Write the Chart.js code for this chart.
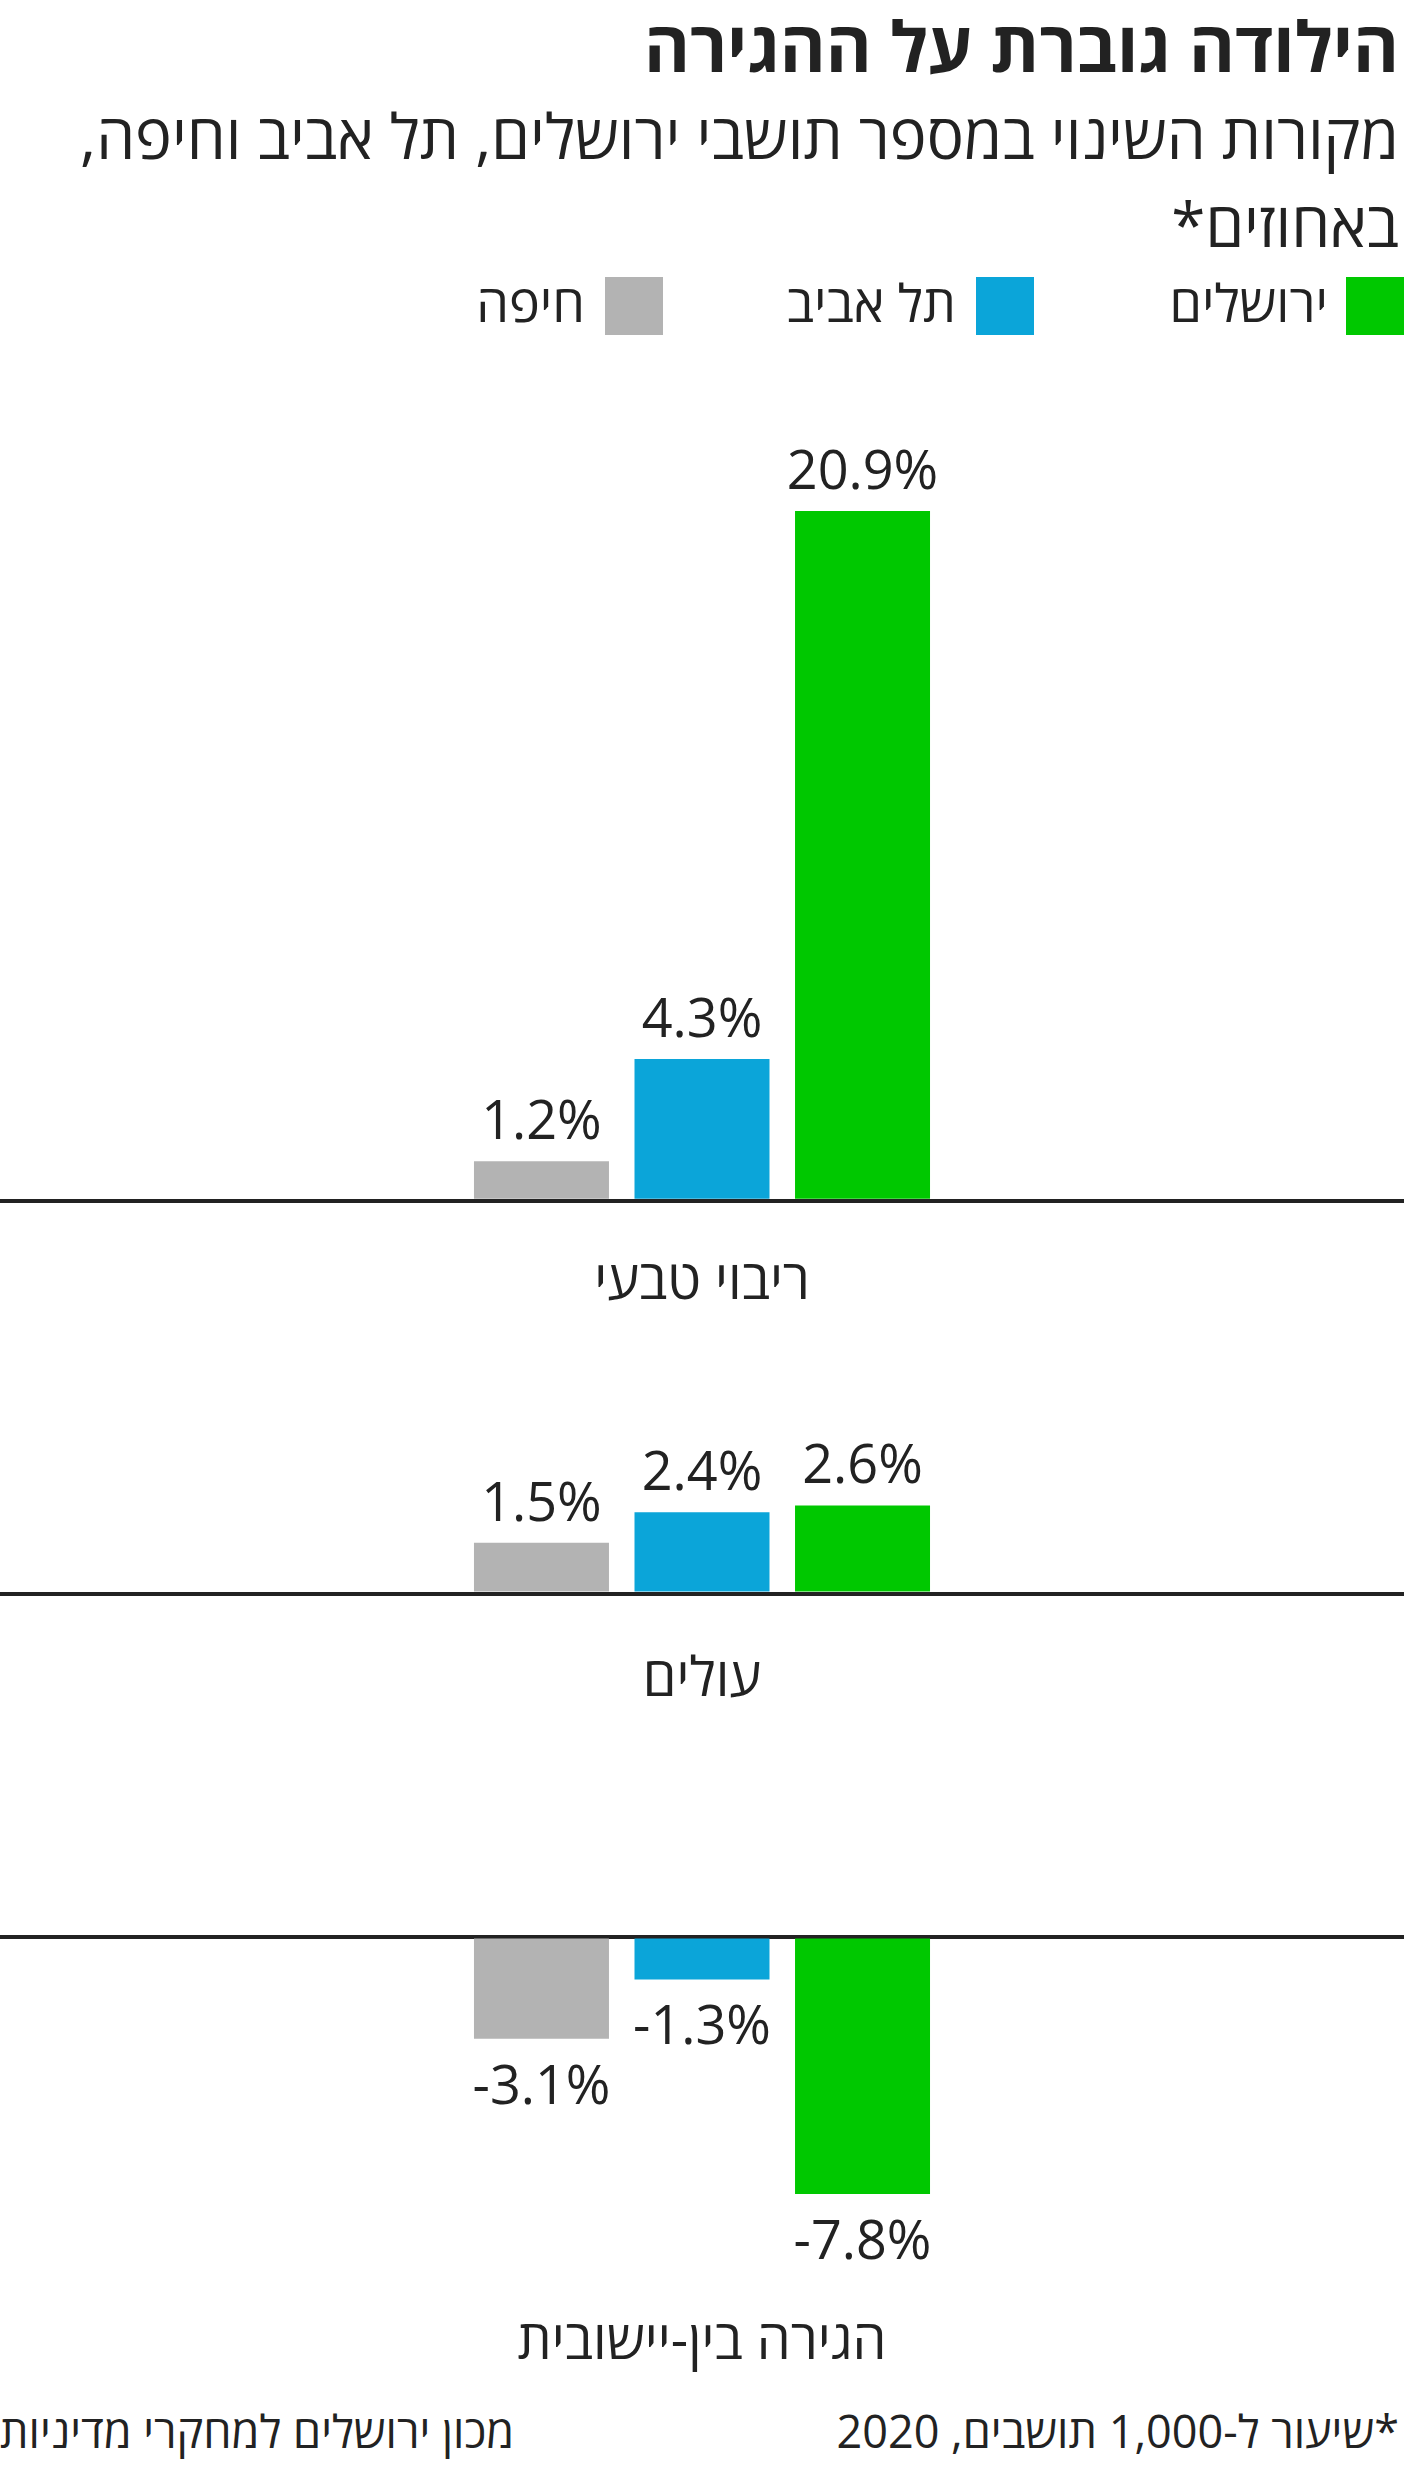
<!DOCTYPE html>
<html lang="he">
<head>
<meta charset="utf-8">
<script src="https://cdn.jsdelivr.net/npm/chart.js@4.4.1/dist/chart.umd.min.js"></script>
<style>
  body { margin: 0; background: #fff; }
  #page { position: relative; width: 1404px; height: 2465px; overflow: hidden; color: #222;
          font-family: 'Open Sans', 'Liberation Sans', sans-serif; }
  .t { position: absolute; white-space: nowrap; line-height: 1; margin: 0; direction: rtl; }
  .title { right: 5px; top: 10px; font-size: 70px; font-weight: 700; }
  .sub { right: 5px; font-size: 62px; font-weight: 400; }
  .leg { font-size: 52px; top: 276px; }
  .sw { position: absolute; top: 277px; width: 58px; height: 58px; }
  .foot { font-size: 45px; top: 2408px; }
  .panel { position: absolute; left: 0; width: 1404px; }
</style>
</head>
<body>
<div id="page">
  <h1 class="t title">הילודה גוברת על ההגירה</h1>
  <div class="t sub" style="top:104px">מקורות השינוי במספר תושבי ירושלים, תל אביב וחיפה,</div>
  <div class="t sub" style="top:192px">באחוזים*</div>

  <div class="sw" style="right:0; background:#00c800"></div>
  <div class="t leg" style="right:76px">ירושלים</div>
  <div class="sw" style="right:370px; background:#0ba5d9"></div>
  <div class="t leg" style="right:448px">תל אביב</div>
  <div class="sw" style="right:741px; background:#b3b3b3"></div>
  <div class="t leg" style="right:819px">חיפה</div>

  <div class="panel" id="p0" dir="ltr"><canvas id="c0"></canvas></div>
  <div class="panel" id="p1" dir="ltr"><canvas id="c1"></canvas></div>
  <div class="panel" id="p2" dir="ltr"><canvas id="c2"></canvas></div>

  <div class="t foot" style="right:5px">*שיעור ל-1,000 תושבים, 2020</div>
  <div class="t foot" style="left:0">מכון ירושלים למחקרי מדיניות</div>
</div>

<script>
// data
const categories = ['ריבוי טבעי', 'עולים', 'הגירה בין-יישובית'];
const cities = ['חיפה', 'תל אביב', 'ירושלים'];
const haifa = [1.2, 1.5, -3.1];
const telAviv = [4.3, 2.4, -1.3];
const jerusalem = [20.9, 2.6, -7.8];

const colors = ['#b3b3b3', '#0ba5d9', '#00c800'];
const FONT = "'Open Sans', 'Liberation Sans', sans-serif";
const PX = 33; // pixels per percentage point
const CAT_SIZE = 54;

// zero line y, axis range and category label baseline for each panel (page pixels)
const panels = [
  { zeroY: 1201, min: 0, max: 23.6, catBase: 1303 },
  { zeroY: 1589, min: 0, max: 5, catBase: 1695 },
  { zeroY: 1936, min: -10.6, max: 0.5, catBase: 2362 },
];

const valueLabels = {
  id: 'valueLabels',
  afterDatasetsDraw(chart) {
    const ctx = chart.ctx;
    ctx.save();
    ctx.font = `54px ${FONT}`;
    ctx.fillStyle = '#222';
    ctx.textAlign = 'center';
    ctx.textBaseline = 'alphabetic';
    chart.data.datasets.forEach((ds, i) => {
      chart.getDatasetMeta(i).data.forEach((bar, j) => {
        const v = ds.data[j];
        const y = v >= 0 ? bar.y - 22 : bar.y + 26 + 39;
        ctx.fillText(v.toFixed(1) + '%', bar.x, y);
      });
    });
    ctx.restore();
  },
};

const series = [haifa, telAviv, jerusalem];

panels.forEach((p, i) => {
  const top = p.zeroY - p.max * PX;
  const areaH = (p.max - p.min) * PX;
  const bottom = p.zeroY - p.min * PX;
  const pad = p.catBase - bottom - 0.95 * CAT_SIZE;
  const wrap = document.getElementById('p' + i);
  wrap.style.top = top + 'px';
  wrap.style.height = areaH + CAT_SIZE * 1.2 + pad * 2 + 'px';

  new Chart(document.getElementById('c' + i), {
    type: 'bar',
    data: {
      labels: [categories[i]],
      datasets: series.map((s, k) => ({
        label: cities[k],
        data: [s[i]],
        backgroundColor: colors[k],
        borderWidth: 0,
      })),
    },
    options: {
      responsive: true,
      maintainAspectRatio: false,
      animation: false,
      layout: { padding: 0 },
      datasets: { bar: { categoryPercentage: 0.343, barPercentage: 0.841 } },
      plugins: { legend: { display: false }, tooltip: { enabled: false } },
      scales: {
        x: {
          grid: { display: false, drawTicks: false },
          border: { display: false },
          ticks: { color: '#222', padding: pad, font: { family: FONT, size: CAT_SIZE } },
        },
        y: {
          min: p.min,
          max: p.max,
          z: 1,
          afterBuildTicks: (s) => { s.ticks = [{ value: 0 }]; },
          ticks: { display: false },
          border: { display: false },
          grid: { color: '#222', lineWidth: 4, drawTicks: false },
        },
      },
    },
    plugins: [valueLabels],
  });
});
</script>
</body>
</html>
